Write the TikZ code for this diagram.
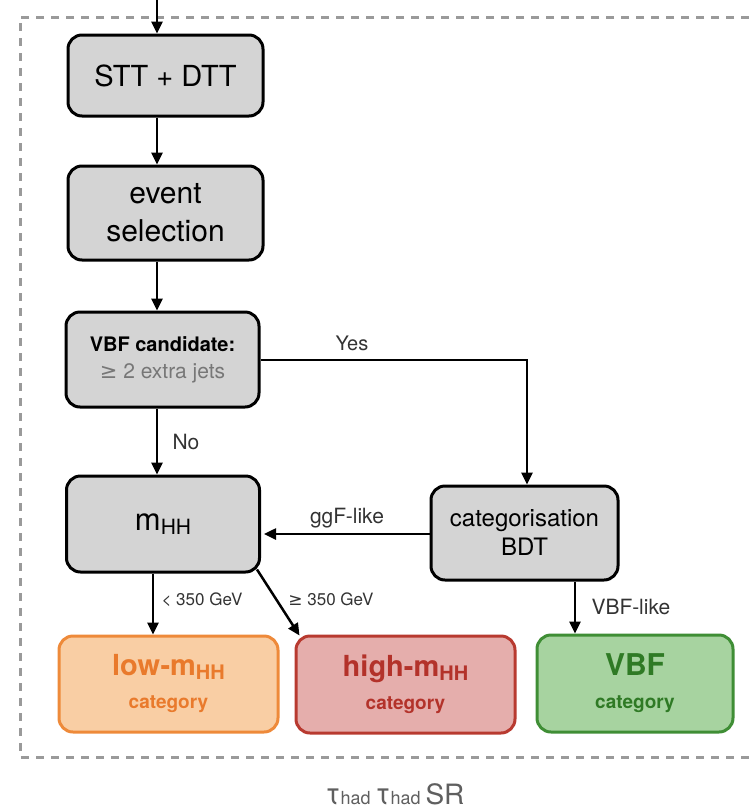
\documentclass[tikz,border=0pt]{standalone}
\usepackage{fontspec}
\setmainfont{TeX Gyre Heros}
\newfontfamily\symf{DejaVu Sans}
\usetikzlibrary{arrows.meta,calc}
\definecolor{boxgray}{HTML}{D4D4D4}
\definecolor{lblgray}{HTML}{333333}
\definecolor{subgray}{HTML}{777777}
\definecolor{framegray}{HTML}{9A9A9A}
\definecolor{lowfill}{HTML}{F9CEA4}
\definecolor{lowdraw}{HTML}{EE8A3A}
\definecolor{lowtext}{HTML}{E97A2C}
\definecolor{highfill}{HTML}{E5AEAC}
\definecolor{highdraw}{HTML}{B83A30}
\definecolor{hightext}{HTML}{B3322A}
\definecolor{vbffill}{HTML}{A7D3A0}
\definecolor{vbfdraw}{HTML}{3F8E35}
\definecolor{vbftext}{HTML}{2F7A25}
\newcommand{\fs}[2]{\fontsize{#1}{#2}\selectfont}
\newcommand{\HHsub}[1]{\raisebox{-4pt}{\fontsize{#1}{#1}\selectfont HH}}
\tikzset{
  flowbox/.style={draw=black, fill=boxgray, line width=3pt, rounded corners=14pt,
    align=center, inner sep=0pt, text=black},
  catbox/.style={line width=3pt, rounded corners=14pt, align=center, inner sep=0pt,
    font=\fs{19}{33}\bfseries},
  flowarrow/.style={line width=2.5pt, -{Triangle[length=12pt,width=11pt]}},
  lbl/.style={text=lblgray, inner sep=0pt},
}
\begin{document}
\begin{tikzpicture}[x=1pt,y=-1pt]
\useasboundingbox (0,0) rectangle (749,812);
% frame
\draw[framegray, line width=3pt, dash pattern=on 8pt off 7pt] (749,17) -- (20,17) -- (20,757) -- (749,757);
% nodes
\node[flowbox, font=\fs{29}{34}, minimum width=195pt, minimum height=81pt] (stt) at (165.5,75.5) {STT + DTT};
\node[flowbox, font=\fs{30}{38}, minimum width=195pt, minimum height=94pt] (evt) at (165.5,213) {event\\selection};
\node[flowbox, font=\fs{21}{27}, minimum width=193pt, minimum height=95pt] (vbfc) at (162.5,359.5)
  {{\bfseries\fs{20}{27}VBF candidate:}\\{\color{subgray}{\symf ≥} 2 extra jets}};
\node[flowbox, font=\fs{31}{34}, minimum width=193pt, minimum height=96pt] (mhh) at (163,524) {m\HHsub{21}};
\node[flowbox, font=\fs{24}{29}, minimum width=187pt, minimum height=94pt] (cat) at (524.5,533) {categorisation\\BDT};
\node[catbox, draw=lowdraw, fill=lowfill, text=lowtext, minimum width=219pt, minimum height=96pt] (low) at (168.5,684)
  {{\fs{29}{33}low-m\HHsub{20}}\\category};
\node[catbox, draw=highdraw, fill=highfill, text=hightext, minimum width=219pt, minimum height=97pt] (high) at (405.5,684.5)
  {{\fs{29}{33}high-m\HHsub{20}}\\category};
\node[catbox, draw=vbfdraw, fill=vbffill, text=vbftext, minimum width=196pt, minimum height=97pt] (vbf) at (635,683.5)
  {{\fs{30}{33}VBF}\\category};
% helper coordinates
\coordinate (ax) at (157,0);
\coordinate (bx) at (153,0);
\coordinate (cx) at (575,0);
\coordinate (topin) at (157,0);
\coordinate (yescorner) at (527,360);
% connectors
\draw[flowarrow] (topin) -- (stt.north -| ax);
\draw[flowarrow] (stt.south -| ax) -- (evt.north -| ax);
\draw[flowarrow] (evt.south -| ax) -- (vbfc.north -| ax);
\draw[flowarrow] (vbfc.south -| ax) -- (mhh.north -| ax);
\draw[flowarrow] (vbfc.east |- yescorner) -- (yescorner) -- (cat.north -| yescorner);
\draw[flowarrow] (cat.west |- 0,534) -- ([xshift=3pt]mhh.east |- 0,534);
\draw[flowarrow] (mhh.south -| bx) -- (low.north -| bx);
\draw[flowarrow] ([xshift=-4pt,yshift=4pt]mhh.south east) -- ([xshift=5pt,yshift=-1pt]high.north west);
\draw[flowarrow] (cat.south -| cx) -- (vbf.north -| cx);
% labels
\node[lbl, font=\fs{20}{24}] (yes) at (352,343) {Yes};
\node[lbl, font=\fs{21}{24}] (no) at (186,442) {No};
\node[lbl, font=\fs{21}{24}] (ggf) at (347,518) {ggF-like};
\node[lbl, font=\fs{17}{20}] (lt) at (202,600) {< 350 GeV};
\node[lbl, font=\fs{17}{20}] (ge) at (331,599) {{\symf ≥} 350 GeV};
\node[lbl, font=\fs{21}{24}] (vbfl) at (631,607) {VBF-like};
\node[text=subgray!80!black, inner sep=0pt] (sr) at (395,794)
  {\fs{30}{30}τ\fs{18}{18}had \fs{30}{30}τ\fs{18}{18}had \fs{28}{30}SR};
\end{tikzpicture}
\end{document}
